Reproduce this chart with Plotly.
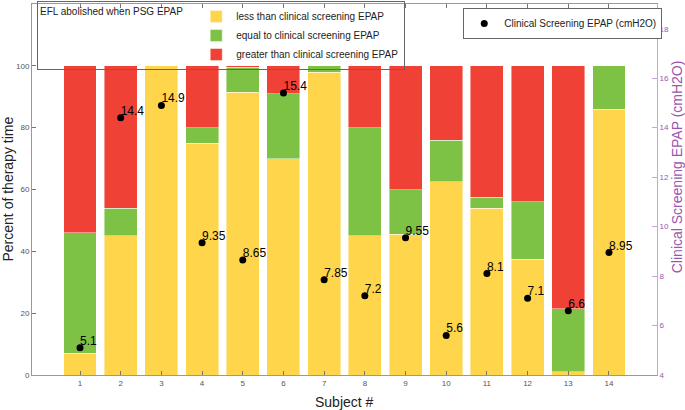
import plotly.graph_objects as go

subjects = list(range(1, 15))
less_pct = [7, 45, 100, 75, 91.5, 70, 98, 45, 45.5, 62.5, 54, 37.5, 1, 86]
equal_pct = [39, 9, 0, 5, 8, 21, 2, 35, 14.5, 13.5, 3.5, 18.5, 20.5, 14]
greater_pct = [54, 46, 0, 20, 0.5, 9, 0, 20, 40, 24, 42.5, 44, 78.5, 0]
epap = [5.1, 14.4, 14.9, 9.35, 8.65, 15.4, 7.85, 7.2, 9.55, 5.6, 8.1, 7.1, 6.6, 8.95]
epap_labels = ["5.1", "14.4", "14.9", "9.35", "8.65", "15.4", "7.85", "7.2", "9.55", "5.6", "8.1", "7.1", "6.6", "8.95"]

FONT = "Liberation Sans, Arial, sans-serif"
YELLOW = "#FFD54C"
GREEN = "#7DC244"
RED = "#EF4136"
PURPLE_LINE = "#C9A3D9"
PURPLE_TXT = "#9C55B0"

fig = go.Figure()
edge = dict(color="rgba(255,255,255,0.55)", width=0.8)
fig.add_trace(go.Bar(x=subjects, y=less_pct, name="less than clinical screening EPAP",
                     marker=dict(color=YELLOW, line=edge), width=0.81, legend="legend"))
fig.add_trace(go.Bar(x=subjects, y=equal_pct, name="equal to clinical screening EPAP",
                     marker=dict(color=GREEN, line=edge), width=0.81, legend="legend"))
fig.add_trace(go.Bar(x=subjects, y=greater_pct, name="greater than clinical screening EPAP",
                     marker=dict(color=RED, line=edge), width=0.81, legend="legend"))

fig.add_trace(go.Scatter(x=subjects, y=epap, yaxis="y2", mode="markers",
                         marker=dict(color="black", size=7),
                         name="Clinical Screening EPAP (cmH2O)", legend="legend2"))
fig.add_trace(go.Scatter(x=subjects, y=epap, yaxis="y2", mode="text",
                         text=epap_labels, textposition="top right",
                         textfont=dict(family=FONT, size=12, color="black"),
                         showlegend=False, hoverinfo="skip"))

fig.update_layout(
    width=685, height=410,
    margin=dict(l=32, r=28, t=4, b=35, autoexpand=False),
    barmode="stack", bargap=0.19,
    paper_bgcolor="white", plot_bgcolor="white",
    font=dict(family=FONT, size=8, color="#555"),
    xaxis=dict(range=[-0.18, 15.18], tickmode="array", tickvals=subjects,
               ticks="inside", ticklen=4, tickcolor="#777",
               showline=True, linecolor="#999", linewidth=1, mirror="ticks",
               showgrid=False, zeroline=False, automargin=False,
               tickfont=dict(size=8, color="#555")),
    yaxis=dict(range=[0, 120], dtick=20, ticks="inside", ticklen=4, tickcolor="#777",
               showline=True, linecolor="#999", linewidth=1,
               showgrid=False, zeroline=False, automargin=False,
               tickfont=dict(size=8, color="#555")),
    yaxis2=dict(range=[4, 19], tickvals=[4, 6, 8, 10, 12, 14, 16, 18],
                overlaying="y", side="right", anchor="x",
                ticks="inside", ticklen=5, tickcolor=PURPLE_LINE,
                showline=True, linecolor=PURPLE_LINE, linewidth=1,
                showgrid=False, zeroline=False, automargin=False,
                tickfont=dict(size=8, color=PURPLE_TXT)),
    legend=dict(x=0.008, y=1.008, xanchor="left", yanchor="top",
                bordercolor="#666", borderwidth=1, bgcolor="rgba(255,255,255,0)",
                font=dict(family=FONT, size=10, color="#222"),
                title=dict(text="EFL abolished when PSG EPAP  ", side="left",
                           font=dict(family=FONT, size=10, color="#222")),
                traceorder="normal", tracegroupgap=0),
    legend2=dict(x=0.69, y=0.989, xanchor="left", yanchor="top",
                 bordercolor="#666", borderwidth=1, bgcolor="white",
                 font=dict(family=FONT, size=10, color="#222")),
    annotations=[
        dict(text="Percent of therapy time", xref="paper", yref="paper",
             x=0, y=0.5, xshift=-25, textangle=-90, showarrow=False,
             xanchor="center", yanchor="middle",
             font=dict(family=FONT, size=14, color="#222")),
        dict(text="Clinical Screening EPAP (cmH2O)", xref="paper", yref="paper",
             x=1, y=0.56, xshift=20, textangle=-90, showarrow=False,
             xanchor="center", yanchor="middle",
             font=dict(family=FONT, size=14, color=PURPLE_TXT)),
        dict(text="Subject #", xref="paper", yref="paper",
             x=0.5, y=0, yshift=-27, showarrow=False,
             xanchor="center", yanchor="middle",
             font=dict(family=FONT, size=14, color="#222")),
    ],
)

fig.write_html("out.html", config={"displayModeBar": False},
               post_script="document.body.style.margin='0';document.body.style.overflow='hidden';")
